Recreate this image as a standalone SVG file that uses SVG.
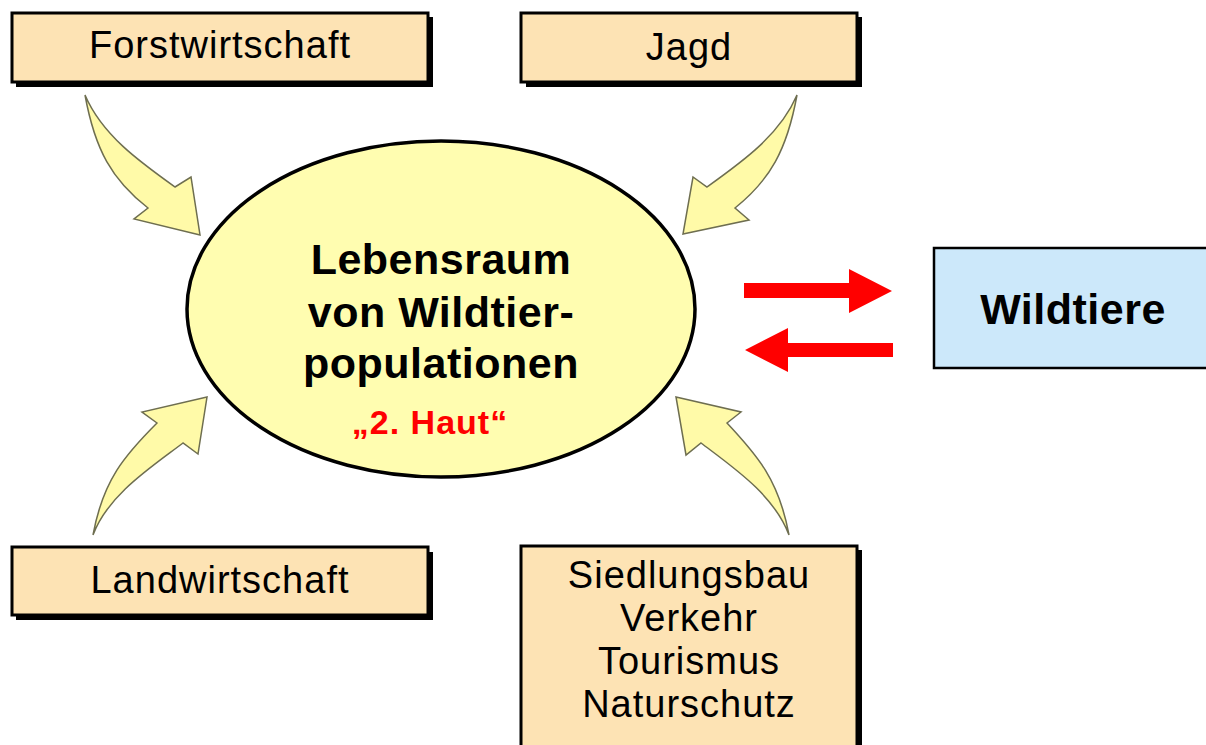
<svg xmlns="http://www.w3.org/2000/svg" width="1206" height="745" viewBox="0 0 1206 745">
<style>
.box{fill:#FDE3B4;stroke:#000;stroke-width:3}
.shadow{fill:#000}
.lbl{font-family:"Liberation Sans",Arial,sans-serif;font-size:38px;letter-spacing:1px;fill:#000;text-anchor:middle}
.bold{font-family:"Liberation Sans",Arial,sans-serif;font-weight:bold;font-size:43px;letter-spacing:0.5px;fill:#000;text-anchor:middle}
.yarrow{fill:#FFFAA8;stroke:#6E6E50;stroke-width:1.5;stroke-linejoin:miter}
.rarrow{fill:#FF0000}
</style>
<rect width="1206" height="745" fill="#fff"/>
<g id="forstwirtschaft">
<rect class="shadow" x="16" y="17" width="417" height="70"/>
<rect class="box" x="12" y="13" width="416" height="69"/>
<text class="lbl" x="220" y="58">Forstwirtschaft</text>
</g>
<g id="jagd">
<rect class="shadow" x="526" y="17" width="336" height="70"/>
<rect class="box" x="521" y="13" width="336" height="69"/>
<text class="lbl" x="689" y="60">Jagd</text>
</g>
<g id="landwirtschaft">
<rect class="shadow" x="16" y="552" width="417" height="68"/>
<rect class="box" x="12" y="547" width="416" height="68"/>
<text class="lbl" x="220" y="593">Landwirtschaft</text>
</g>
<g id="siedlungsbau">
<rect class="shadow" x="526" y="550" width="336" height="200"/>
<rect class="box" x="521" y="546" width="336" height="205"/>
<text class="lbl" x="689" y="588">Siedlungsbau</text>
<text class="lbl" x="689" y="631">Verkehr</text>
<text class="lbl" x="689" y="674">Tourismus</text>
<text class="lbl" x="689" y="717">Naturschutz</text>
</g>
<g id="lebensraum">
<ellipse cx="441" cy="309" rx="254" ry="168" fill="#FFFDB0" stroke="#000" stroke-width="3.5"/>
<text class="bold" x="441" y="274">Lebensraum</text>
<text class="bold" x="441" y="327">von Wildtier-</text>
<text class="bold" x="441" y="378">populationen</text>
<text x="430" y="434" font-family="'Liberation Sans',Arial,sans-serif" font-weight="bold" font-size="34" letter-spacing="1" fill="#FF0000" text-anchor="middle">„2. Haut“</text>
</g>
<g id="wildtiere">
<rect x="934" y="248" width="280" height="120" fill="#CCE8FA" stroke="#000" stroke-width="2.5"/>
<text class="bold" x="1073" y="324">Wildtiere</text>
</g>
<g id="connectors">
<path class="yarrow" d="M85,95 C95,150 112,180 148,208 L134,219 L200,235 L191,177 L175,187 C140,162 102,135 85,95 Z"/>
<path class="yarrow" d="M797,95 C787,150 770,180 735,208 L749,220 L683,234 L693,177 L707,187 C742,162 780,135 797,95 Z"/>
<path class="yarrow" d="M93,535 C103,480 125,455 157,423 L142,412 L207,397 L198,454 L183,443 C150,468 108,495 93,535 Z"/>
<path class="yarrow" d="M789,535 C779,480 757,455 727,423 L741,412 L676,397 L686,455 L701,443 C734,468 774,495 789,535 Z"/>
<path class="rarrow" d="M744,283 L849,283 L849,269 L892,291 L849,313 L849,298 L744,298 Z"/>
<path class="rarrow" d="M893,343 L788,343 L788,328 L745,350 L788,372 L788,357 L893,357 Z"/>
</g>
</svg>
